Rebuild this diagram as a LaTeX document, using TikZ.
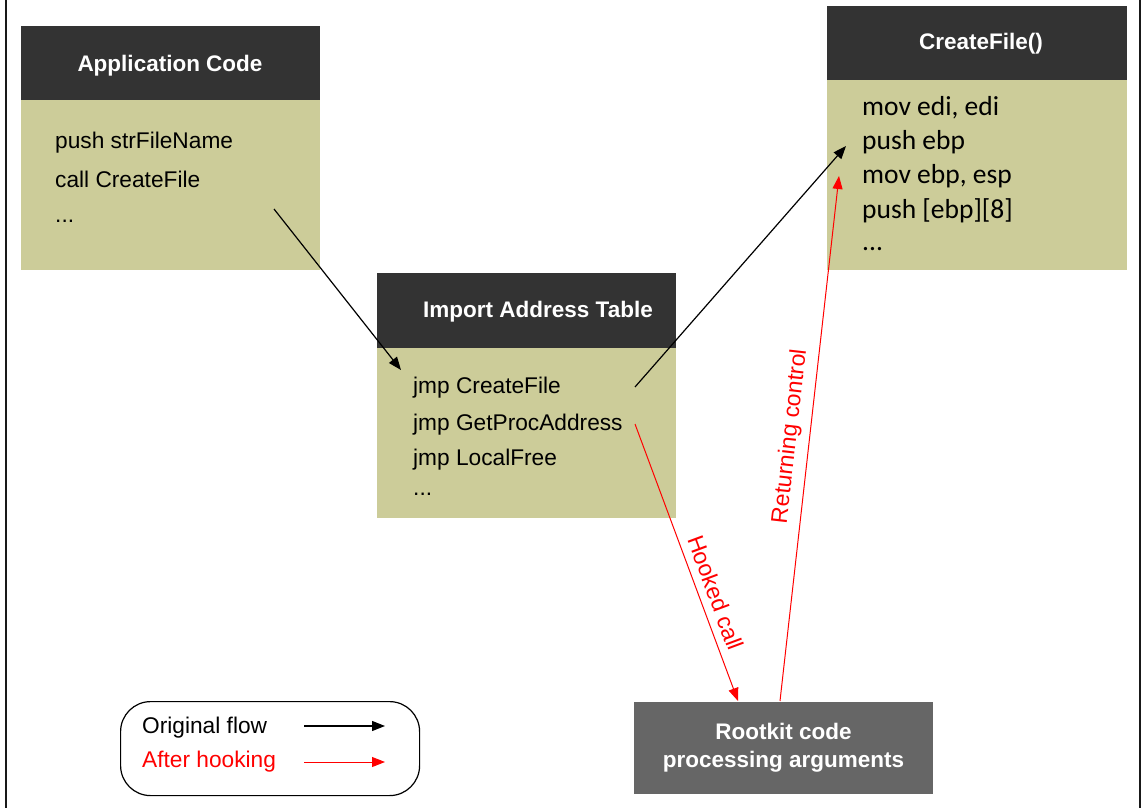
\documentclass[tikz,border=0pt]{standalone}
\usepackage{fontspec}
\setmainfont{Liberation Sans}
\newfontfamily\codefont{Carlito}
\usetikzlibrary{arrows.meta}
\definecolor{hdr}{HTML}{333333}
\definecolor{olive}{HTML}{CCCC99}
\definecolor{rkgray}{HTML}{666666}
\tikzset{
  box/.style={rectangle, draw=none, inner sep=0pt, anchor=north west},
  hdrbox/.style={box, fill=hdr},
  bodybox/.style={box, fill=olive},
  hdrtext/.style={anchor=base, inner sep=0pt, text=white,
    font=\fontsize{22.5}{27}\selectfont\bfseries},
  codeline/.style={anchor=base west, inner sep=0pt,
    font=\fontsize{22.7}{27}\selectfont},
  asmline/.style={anchor=base west, inner sep=0pt,
    font=\codefont\fontsize{27.5}{33}\selectfont},
  tip/.style={-{Triangle[length=13pt,width=10pt]}},
  flow/.style={tip, draw=black, line width=1.2pt},
  hook/.style={tip, draw=red, line width=1pt},
  arrowlbl/.style={text=red, font=\fontsize{23}{27}\selectfont,
    sloped, above, inner sep=8pt},
}
\begin{document}
\begin{tikzpicture}[x=1pt,y=-1pt]
\useasboundingbox (0,0) rectangle (1141,808);

% side rules of the frame
\draw[line width=2.3pt, black!90] (6.2,0) -- (6.2,808);
\draw[line width=2pt, black!90] (1140,0) -- (1140,808);

% Application Code
\node[hdrbox, minimum width=299pt, minimum height=74pt] (apphead) at (21,26) {};
\node[bodybox, minimum width=299pt, minimum height=170pt] (appbody) at (21,100) {};
\node[hdrtext] (apptitle) at (170,72) {Application Code};
\node[codeline] (app1) at (55,148) {push strFileName};
\node[codeline] (app2) at (55,187) {call CreateFile};
\node[codeline] (app3) at (55,222) {...};

% Import Address Table
\node[hdrbox, minimum width=299pt, minimum height=75pt] (iathead) at (377,273) {};
\node[bodybox, minimum width=299pt, minimum height=170pt] (iatbody) at (377,348) {};
\node[hdrtext] (iattitle) at (538,317) {Import Address Table};
\node[codeline] (iat1) at (413,393) {jmp CreateFile};
\node[codeline] (iat2) at (413,430) {jmp GetProcAddress};
\node[codeline] (iat3) at (413,465) {jmp LocalFree};
\node[codeline] (iat4) at (413,495) {...};

% CreateFile()
\node[hdrbox, minimum width=300pt, minimum height=74pt] (cfhead) at (827,6) {};
\node[bodybox, minimum width=300pt, minimum height=190pt] (cfbody) at (827,80) {};
\node[hdrtext] (cftitle) at (981,50) {CreateFile()};
\node[asmline] (cf1) at (862,115) {mov edi, edi};
\node[asmline] (cf2) at (862,149) {push ebp};
\node[asmline] (cf3) at (862,183) {mov ebp, esp};
\node[asmline] (cf4) at (862,218) {push [ebp][8]};
\node[asmline] (cf5) at (862,250) {...};

% Rootkit
\node[box, fill=rkgray, minimum width=299pt, minimum height=92pt,
      text=white, align=center, anchor=center,
      font=\fontsize{22.5}{28}\selectfont\bfseries] (rootkit) at (783.5,748)
      {Rootkit code\\processing arguments};

% connector end points
\coordinate (callsrc) at (274,209);
\coordinate (iatentry) at (401,370);
\coordinate (jmpcf) at (635,387);
\coordinate (cfentry) at (846,146);
\coordinate (jmpgpa) at (635,424);
\coordinate (rkin) at (738,701);
\coordinate (rkout) at (780,701);
\coordinate (cfret) at (839,176);

% original flow
\draw[flow] (callsrc) -- (iatentry);
\draw[flow] (jmpcf) -- (cfentry);

% hooked flow
\draw[hook] (jmpgpa) -- node[arrowlbl, pos=0.63] (hooklbl) {Hooked call} (rkin);
\draw[hook] (rkout) -- node[arrowlbl, pos=0.5] (retlbl) {Returning control} (cfret);

% legend
\node[box, draw=black, line width=1.2pt, rounded corners=30pt,
      minimum width=299pt, minimum height=94pt] (legend) at (120,701) {};
\node[codeline] (lgorig) at (142,733) {Original flow};
\node[codeline, text=red] (lghook) at (142,767) {After hooking};
\coordinate (lga1) at (304,726);
\coordinate (lgb1) at (385,726);
\coordinate (lga2) at (304,762);
\coordinate (lgb2) at (385,762);
\draw[flow] (lga1) -- (lgb1);
\draw[hook] (lga2) -- (lgb2);
\end{tikzpicture}
\end{document}
